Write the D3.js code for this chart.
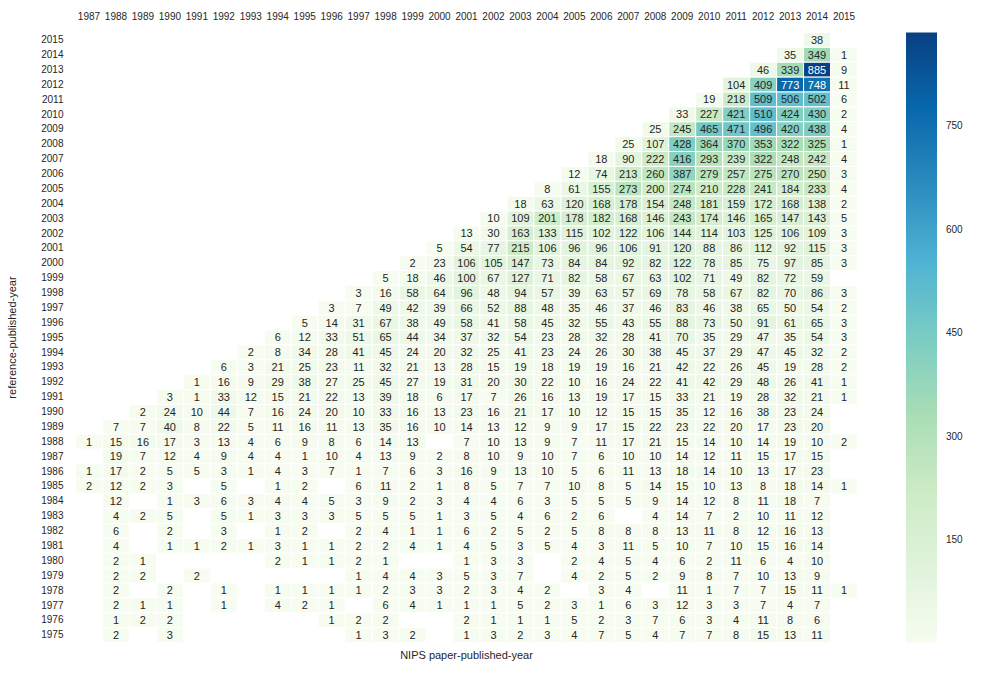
<!DOCTYPE html>
<html>
<head>
<meta charset="utf-8">
<script src="https://cdn.jsdelivr.net/npm/d3@7"></script>
<style>
  html, body { margin: 0; padding: 0; background: #fff; }
  svg { display: block; font-family: "Liberation Sans", Arial, sans-serif; }
</style>
</head>
<body>
<svg id="chart" width="988" height="673"></svg>
<script>
const N = null;
// NIPS paper-published-year (columns)
const colYears = ["1987","1988","1989","1990","1991","1992","1993","1994","1995","1996","1997","1998","1999","2000","2001","2002","2003","2004","2005","2006","2007","2008","2009","2010","2011","2012","2013","2014","2015"];
// reference-published-year (rows, top to bottom)
const rowYears = ["2015","2014","2013","2012","2011","2010","2009","2008","2007","2006","2005","2004","2003","2002","2001","2000","1999","1998","1997","1996","1995","1994","1993","1992","1991","1990","1989","1988","1987","1986","1985","1984","1983","1982","1981","1980","1979","1978","1977","1976","1975"];
// counts, one row per reference year, one entry per paper year (null = no value)
const counts = [
  [N,N,N,N,N,N,N,N,N,N,N,N,N,N,N,N,N,N,N,N,N,N,N,N,N,N,N,38,N],
  [N,N,N,N,N,N,N,N,N,N,N,N,N,N,N,N,N,N,N,N,N,N,N,N,N,N,35,349,1],
  [N,N,N,N,N,N,N,N,N,N,N,N,N,N,N,N,N,N,N,N,N,N,N,N,N,46,339,885,9],
  [N,N,N,N,N,N,N,N,N,N,N,N,N,N,N,N,N,N,N,N,N,N,N,N,104,409,773,748,11],
  [N,N,N,N,N,N,N,N,N,N,N,N,N,N,N,N,N,N,N,N,N,N,N,19,218,509,506,502,6],
  [N,N,N,N,N,N,N,N,N,N,N,N,N,N,N,N,N,N,N,N,N,N,33,227,421,510,424,430,2],
  [N,N,N,N,N,N,N,N,N,N,N,N,N,N,N,N,N,N,N,N,N,25,245,465,471,496,420,438,4],
  [N,N,N,N,N,N,N,N,N,N,N,N,N,N,N,N,N,N,N,N,25,107,428,364,370,353,322,325,1],
  [N,N,N,N,N,N,N,N,N,N,N,N,N,N,N,N,N,N,N,18,90,222,416,293,239,322,248,242,4],
  [N,N,N,N,N,N,N,N,N,N,N,N,N,N,N,N,N,N,12,74,213,260,387,279,257,275,270,250,3],
  [N,N,N,N,N,N,N,N,N,N,N,N,N,N,N,N,N,8,61,155,273,200,274,210,228,241,184,233,4],
  [N,N,N,N,N,N,N,N,N,N,N,N,N,N,N,N,18,63,120,168,178,154,248,181,159,172,168,138,2],
  [N,N,N,N,N,N,N,N,N,N,N,N,N,N,N,10,109,201,178,182,168,146,243,174,146,165,147,143,5],
  [N,N,N,N,N,N,N,N,N,N,N,N,N,N,13,30,163,133,115,102,122,106,144,114,103,125,106,109,3],
  [N,N,N,N,N,N,N,N,N,N,N,N,N,5,54,77,215,106,96,96,106,91,120,88,86,112,92,115,3],
  [N,N,N,N,N,N,N,N,N,N,N,N,2,23,106,105,147,73,84,84,92,82,122,78,85,75,97,85,3],
  [N,N,N,N,N,N,N,N,N,N,N,5,18,46,100,67,127,71,82,58,67,63,102,71,49,82,72,59,N],
  [N,N,N,N,N,N,N,N,N,N,3,16,58,64,96,48,94,57,39,63,57,69,78,58,67,82,70,86,3],
  [N,N,N,N,N,N,N,N,N,3,7,49,42,39,66,52,88,48,35,46,37,46,83,46,38,65,50,54,2],
  [N,N,N,N,N,N,N,N,5,14,31,67,38,49,58,41,58,45,32,55,43,55,88,73,50,91,61,65,3],
  [N,N,N,N,N,N,N,6,12,33,51,65,44,34,37,32,54,23,28,32,28,41,70,35,29,47,35,54,3],
  [N,N,N,N,N,N,2,8,34,28,41,45,24,20,32,25,41,23,24,26,30,38,45,37,29,47,45,32,2],
  [N,N,N,N,N,6,3,21,25,23,11,32,21,13,28,15,19,18,19,19,16,21,42,22,26,45,19,28,2],
  [N,N,N,N,1,16,9,29,38,27,25,45,27,19,31,20,30,22,10,16,24,22,41,42,29,48,26,41,1],
  [N,N,N,3,1,33,12,15,21,22,13,39,18,6,17,7,26,16,13,19,17,15,33,21,19,28,32,21,1],
  [N,N,2,24,10,44,7,16,24,20,10,33,16,13,23,16,21,17,10,12,15,15,35,12,16,38,23,24,N],
  [N,7,7,40,8,22,5,11,16,11,13,35,16,10,14,13,12,9,9,17,15,22,23,22,20,17,23,20,N],
  [1,15,16,17,3,13,4,6,9,8,6,14,13,N,7,10,13,9,7,11,17,21,15,14,10,14,19,10,2],
  [N,19,7,12,4,9,4,4,1,10,4,13,9,2,8,10,9,10,7,6,10,10,14,12,11,15,17,15,N],
  [1,17,2,5,5,3,1,4,3,7,1,7,6,3,16,9,13,10,5,6,11,13,18,14,10,13,17,23,N],
  [2,12,2,3,N,5,N,1,2,N,6,11,2,1,8,5,7,7,10,8,5,14,15,10,13,8,18,14,1],
  [N,12,N,1,3,6,3,4,4,5,3,9,2,3,4,4,6,3,5,5,5,9,14,12,8,11,18,7,N],
  [N,4,2,5,N,5,1,3,3,3,5,5,5,1,3,5,4,6,2,6,N,4,14,7,2,10,11,12,N],
  [N,6,N,2,N,3,N,1,2,N,2,4,1,1,6,2,5,2,5,8,8,8,13,11,8,12,16,13,N],
  [N,4,N,1,1,2,1,3,1,1,2,2,4,1,4,5,3,5,4,3,11,5,10,7,10,15,16,14,N],
  [N,2,1,N,N,N,N,2,1,1,2,1,N,N,1,3,3,N,2,4,5,4,6,2,11,6,4,10,N],
  [N,2,2,N,2,N,N,N,N,N,1,4,4,3,5,3,7,N,4,2,5,2,9,8,7,10,13,9,N],
  [N,2,N,2,N,1,N,1,1,1,1,2,3,3,2,3,4,2,N,3,4,N,11,1,7,7,15,11,1],
  [N,2,1,1,N,1,N,4,2,1,N,6,4,1,1,1,5,2,3,1,6,3,12,3,3,7,4,7,N],
  [N,1,2,2,N,N,N,N,N,1,2,2,N,N,2,1,1,1,5,2,3,7,6,3,4,11,8,6,N],
  [N,2,N,3,N,N,N,N,N,N,1,3,2,N,1,3,2,3,4,7,5,4,7,7,8,15,13,11,N]
];
const colorbarTicks = [150, 300, 450, 600, 750];
const xLabel = "NIPS paper-published-year";
const yLabel = "reference-published-year";
const gnbu = ["#f7fcf0","#e0f3db","#ccebc5","#a8ddb5","#7bccc4","#4eb3d3","#2b8cbe","#0868ac","#084081"];

const svg = d3.select("#chart");
const L = 75.5, R = 857.5, T = 32.5, B = 642.5;

const cells = [];
counts.forEach((row, i) => row.forEach((v, j) => {
  if (v !== null) cells.push({ r: rowYears[i], c: colYears[j], v });
}));
const vmin = d3.min(cells, d => d.v), vmax = d3.max(cells, d => d.v);

const x = d3.scaleBand().domain(colYears).range([L, R]);
const y = d3.scaleBand().domain(rowYears).range([T, B]);
const interp = d3.piecewise(d3.interpolateRgb, gnbu);
const norm = d3.scaleLinear().domain([vmin, vmax]).range([0, 1]).clamp(true);
const color = v => interp(norm(v));

function lum(c) {
  const rgb = d3.rgb(c);
  const f = u => { u /= 255; return u <= 0.03928 ? u / 12.92 : Math.pow((u + 0.055) / 1.055, 2.4); };
  return 0.2126 * f(rgb.r) + 0.7152 * f(rgb.g) + 0.0722 * f(rgb.b);
}

const g = svg.append("g");
g.selectAll("rect.cell").data(cells).join("rect")
  .attr("class", "cell")
  .attr("x", d => x(d.c)).attr("y", d => y(d.r))
  .attr("width", x.bandwidth()).attr("height", y.bandwidth())
  .attr("fill", d => color(d.v))
  .attr("stroke", "#fff").attr("stroke-width", 1);

g.selectAll("text.annot").data(cells).join("text")
  .attr("class", "annot")
  .attr("x", d => x(d.c) + x.bandwidth() / 2)
  .attr("y", d => y(d.r) + y.bandwidth() / 2)
  .attr("dy", "0.36em")
  .attr("text-anchor", "middle")
  .attr("font-size", 11)
  .attr("fill", d => lum(color(d.v)) > 0.408 ? "#262626" : "#ffffff")
  .text(d => d.v);

// top x axis
const xa = svg.append("g").attr("transform", `translate(0,${T})`)
  .call(d3.axisTop(x).tickSize(0).tickPadding(13));
xa.select(".domain").remove();
xa.selectAll("text").attr("font-size", 10).attr("fill", "#262626").attr("font-family", null);

// left y axis
const ya = svg.append("g").attr("transform", `translate(${L},0)`)
  .call(d3.axisLeft(y).tickSize(0).tickPadding(12));
ya.select(".domain").remove();
ya.selectAll("text").attr("font-size", 10).attr("fill", "#262626").attr("font-family", null);

// axis labels
svg.append("text").attr("x", (L + R) / 2).attr("y", 659)
  .attr("text-anchor", "middle").attr("font-size", 11).attr("fill", "#262626").text(xLabel);
svg.append("text").attr("transform", `translate(16,${(T + B) / 2}) rotate(-90)`)
  .attr("text-anchor", "middle").attr("font-size", 11).attr("fill", "#262626").text(yLabel);

// colorbar
const cbX = 906, cbW = 31;
const cy = d3.scaleLinear().domain([vmin, vmax]).range([B, T]);
const defs = svg.append("defs");
const grad = defs.append("linearGradient").attr("id", "cbgrad")
  .attr("x1", 0).attr("y1", 1).attr("x2", 0).attr("y2", 0);
grad.selectAll("stop").data(gnbu).join("stop")
  .attr("offset", (d, i) => i / (gnbu.length - 1))
  .attr("stop-color", d => d);
svg.append("rect").attr("x", cbX).attr("y", T).attr("width", cbW).attr("height", B - T)
  .attr("fill", "url(#cbgrad)");
const ca = svg.append("g").attr("transform", `translate(${cbX + cbW},0)`)
  .call(d3.axisRight(cy).tickValues(colorbarTicks).tickSize(0).tickPadding(9));
ca.select(".domain").remove();
ca.selectAll("text").attr("font-size", 10).attr("fill", "#262626").attr("font-family", null);
</script>
</body>
</html>
